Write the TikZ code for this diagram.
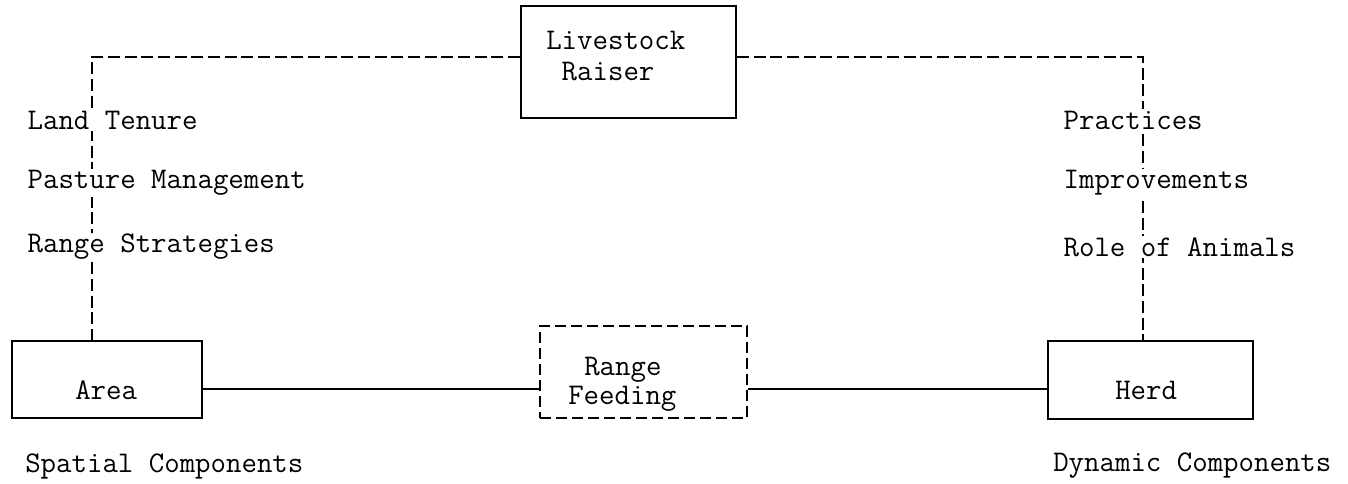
\documentclass[tikz,border=0pt]{standalone}
\begin{document}
\begin{tikzpicture}[x=0.75pt,y=-0.75pt,
  every node/.style={font=\ttfamily\fontsize{22.5}{27}\selectfont},
  boxsolid/.style={draw,line width=1.4pt,inner sep=0pt},
  boxdash/.style={draw,line width=1.4pt,inner sep=0pt,dash pattern=on 8.5pt off 3.5pt},
  dashline/.style={line width=1.4pt,dash pattern=on 9pt off 3.5pt},
  solidline/.style={line width=1.3pt},
  lbl/.style={anchor=west,inner sep=1pt,fill=white},
  txt/.style={anchor=west,inner sep=0pt}]
\useasboundingbox (0,0) rectangle (1348,484);
% boxes
\node[boxsolid,minimum width=215*0.75pt,minimum height=112*0.75pt] (lr) at (628.5,62) {};
\node[boxsolid,minimum width=190*0.75pt,minimum height=77*0.75pt] (area) at (107,379.5) {};
\node[boxdash,minimum width=207*0.75pt,minimum height=92*0.75pt] (rf) at (643.5,372) {};
\node[boxsolid,minimum width=205*0.75pt,minimum height=78*0.75pt] (herd) at (1150.5,380) {};
% box texts
\node[txt] (lr1) at (546,40) {Livestock};
\node[txt] (lr2) at (546,72) {\ Raiser};
\node[txt] (ar) at (75,390) {Area};
\node[txt] (rf1) at (584,370) {Range};
\node[txt] (rf2) at (568,399) {Feeding};
\node[txt] (hd) at (1115,390) {Herd};
% connectors
\coordinate (tl) at (92,57);
\coordinate (tr) at (1143,57);
\coordinate (hl) at (0,389);
\draw[dashline] (lr.west |- tl) -- (tl) -- (tl |- area.north);
\draw[dashline] (lr.east |- tr) -- (tr) -- (tr |- herd.north);
\draw[solidline] (area.east |- hl) -- (rf.west |- hl);
\draw[solidline] (rf.east |- hl) -- (herd.west |- hl);
% side labels
\node[lbl] (l1) at (26,120) {Land Tenure};
\node[lbl] (l2) at (26,183) {Pasture Management};
\node[lbl] (l3) at (26,247) {Range Strategies};
\node[lbl] (r1) at (1062,120) {Practices};
\node[lbl] (r2) at (1062,183) {Improvements};
\node[lbl] (r3) at (1062,247) {Role of Animals};
% bottom captions
\node[txt] (sc) at (25,466) {Spatial Components};
\node[txt] (dc) at (1053,466) {Dynamic Components};
\end{tikzpicture}
\end{document}
